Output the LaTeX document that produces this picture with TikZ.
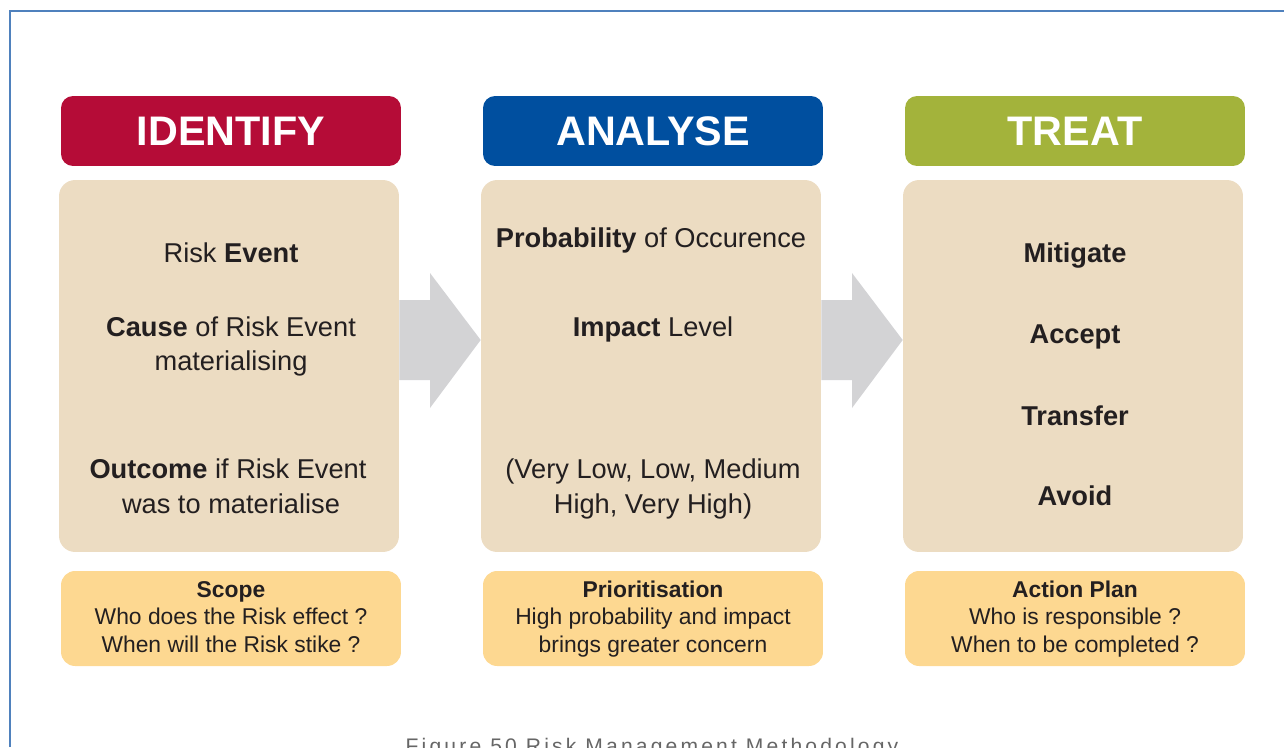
\documentclass[tikz,border=0pt]{standalone}
\usepackage{fontspec}
\setmainfont{Liberation Sans}
\newfontfamily\capfont[LetterSpace=15]{Liberation Sans}
\definecolor{idred}{HTML}{B50C37}
\definecolor{anblue}{HTML}{004F9F}
\definecolor{trgreen}{HTML}{A3B33B}
\definecolor{bodybg}{HTML}{ECDCC2}
\definecolor{botbg}{HTML}{FDD891}
\definecolor{arrgray}{HTML}{D3D3D5}
\definecolor{framebl}{HTML}{4F81BD}
\definecolor{txt}{HTML}{231F20}
\begin{document}
\begin{tikzpicture}[x=0.02cm,y=-0.02cm,
  hdr/.style={rounded corners=0.24cm, minimum width=6.8cm, minimum height=1.4cm, inner sep=0,
    text=white, font=\fontsize{23.5}{28}\selectfont\bfseries},
  bodybox/.style={fill=bodybg, rounded corners=0.32cm, minimum width=6.8cm, minimum height=7.44cm, inner sep=0},
  botbox/.style={fill=botbg, rounded corners=0.28cm, minimum width=6.8cm, minimum height=1.9cm, inner sep=0},
  ln/.style={inner sep=0, text height=0.72em, text depth=0pt, text=txt, font=\fontsize{15.5}{19}\selectfont},
  lnb/.style={ln, font=\fontsize{15.5}{19}\selectfont\bfseries},
  sm/.style={inner sep=0, text height=0.72em, text depth=0pt, text=txt, font=\fontsize{13}{16}\selectfont},
  smb/.style={sm, font=\fontsize{13}{16}\selectfont\bfseries},
  bigarrow/.style={fill=arrgray}]
\useasboundingbox (0,0) rectangle (1284,747);
% frame
\draw[framebl, line width=1.2pt] (10,747) -- (10,11) -- (1284,11);

% headers
\node[hdr, fill=idred] (h1) at (231,131) {IDENTIFY};
\node[hdr, fill=anblue] (h2) at (653,131) {ANALYSE};
\node[hdr, fill=trgreen] (h3) at (1075,131) {TREAT};

% bodies
\node[bodybox] (b1) at (229,366) {};
\node[bodybox] (b2) at (651,366) {};
\node[bodybox] (b3) at (1073,366) {};

% bottom boxes
\node[botbox] (s1) at (231,618.5) {};
\node[botbox] (s2) at (653,618.5) {};
\node[botbox] (s3) at (1075,618.5) {};

% arrows
\fill[bigarrow] (b1.east |- 0,300) -- (430,300) -- (430,273) -- (b2.west |- 0,340) -- (430,408) -- (430,380) -- (b1.east |- 0,380) -- cycle;
\fill[bigarrow] (b2.east |- 0,300) -- (852,300) -- (852,273) -- (b3.west |- 0,340) -- (852,408) -- (852,380) -- (b2.east |- 0,380) -- cycle;

% identify text
\node[ln] (i1) at (231,256) {Risk \textbf{Event}};
\node[ln] (i2) at (231,330) {\textbf{Cause} of Risk Event};
\node[ln] (i3) at (231,364) {materialising};
\node[ln] (i4) at (228,472) {\textbf{Outcome} if Risk Event};
\node[ln] (i5) at (231,507) {was to materialise};

% analyse text
\node[ln] (a1) at (651,241) {\textbf{Probability} of Occurence};
\node[ln] (a2) at (653,330) {\textbf{Impact} Level};
\node[ln] (a3) at (653,472) {(Very Low, Low, Medium};
\node[ln] (a4) at (653,507) {High, Very High)};

% treat text
\node[lnb] (t1) at (1075,256) {Mitigate};
\node[lnb] (t2) at (1075,337) {Accept};
\node[lnb] (t3) at (1075,419) {Transfer};
\node[lnb] (t4) at (1075,499) {Avoid};

% bottom texts
\node[smb] (p1) at (231,591) {Scope};
\node[sm] (p2) at (231,618) {Who does the Risk effect ?};
\node[sm] (p3) at (231,646) {When will the Risk stike ?};
\node[smb] (q1) at (653,591) {Prioritisation};
\node[sm] (q2) at (653,618) {High probability and impact};
\node[sm] (q3) at (653,646) {brings greater concern};
\node[smb] (r1) at (1075,591) {Action Plan};
\node[sm] (r2) at (1075,618) {Who is responsible ?};
\node[sm] (r3) at (1075,646) {When to be completed ?};

% caption
\node[inner sep=0, anchor=north, text=black!60, font=\capfont\fontsize{12}{14}\selectfont] (cap) at (652,738) {Figure 50 Risk Management Methodology};
\end{tikzpicture}
\end{document}
